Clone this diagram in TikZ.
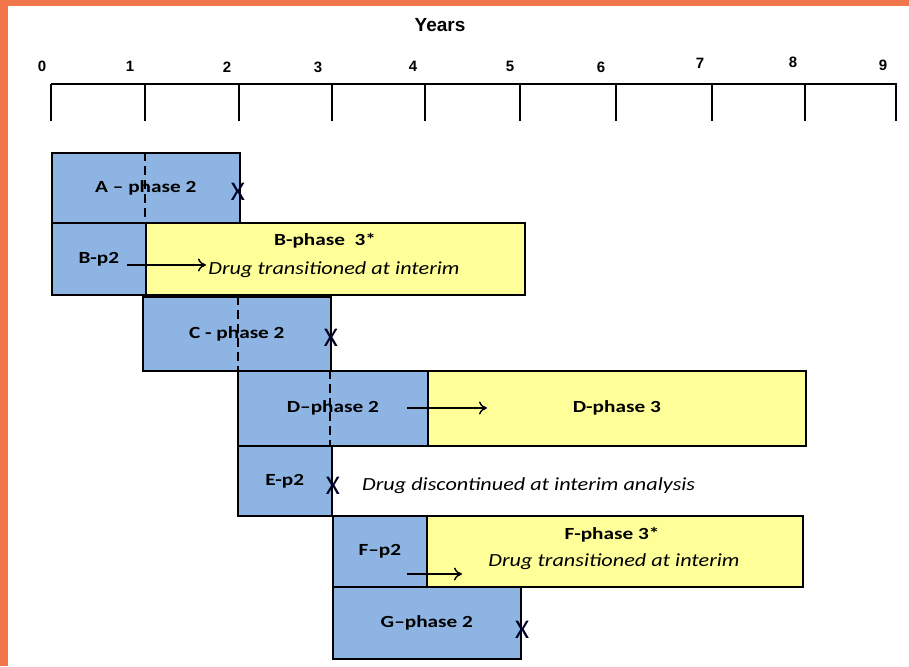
\documentclass[tikz,border=0pt]{standalone}
\usepackage{fontspec}
\setmainfont{Carlito}
\newfontfamily\axisfont{Liberation Sans}
\newfontfamily\widefont[FakeStretch=1.25,Ligatures=TeX]{Carlito}
\newfontfamily\notefont[FakeStretch=1.2,Ligatures=TeX]{Carlito}
\usetikzlibrary{arrows.meta}
\definecolor{frameorange}{RGB}{241,119,74}
\definecolor{ptwoblue}{RGB}{141,180,226}
\definecolor{pthreeyellow}{RGB}{255,255,153}
\tikzset{
  phasebox/.style={draw=black, line width=1.6pt, anchor=north west, inner sep=0pt,
    font=\widefont\bfseries\fontsize{17}{20}\selectfont, align=center},
  ptwo/.style={phasebox, fill=ptwoblue},
  pthree/.style={phasebox, fill=pthreeyellow},
  boxlabel/.style={font=\widefont\bfseries\fontsize{17}{20}\selectfont, inner sep=0pt},
  interim/.style={draw=black, line width=1.3pt, dash pattern=on 9pt off 5pt},
  trans/.style={draw=black, line width=1.4pt, -{To[length=8pt,width=13pt,line width=1.4pt]}},
  stopmark/.style={font=\fontsize{27}{27}\selectfont, text=black!85!blue, inner sep=0pt},
  note/.style={font=\notefont\itshape\fontsize{18.5}{21}\selectfont, inner sep=0pt},
  ticklab/.style={font=\axisfont\bfseries\fontsize{15}{15}\selectfont, inner sep=0pt},
  axisline/.style={draw=black, line width=2.6pt},
  tickline/.style={draw=black, line width=1.5pt},
}
\begin{document}
\begin{tikzpicture}[x=1pt,y=-1pt]
% frame
\fill[white] (0,0) rectangle (909,666);
\fill[frameorange] (0,0) rectangle (909,6);
\fill[frameorange] (0,0) rectangle (8,666);
\useasboundingbox (0,0) rectangle (909,666);

% axis
\node[font=\axisfont\bfseries\fontsize{19}{19}\selectfont, inner sep=0pt] (years) at (440,25) {Years};
\coordinate (axL) at (51,84);
\coordinate (axR) at (897,84);
\foreach \i/\x/\lx/\ly in {0/51/42/66,1/145/130/66,2/239/227/67,3/332/318/67,4/425/413/66,5/520/510/66,6/616/601/67,7/712/700/63,8/805/793/62,9/896/883/65}{
  \coordinate (tt\i) at (\x,84);
  \coordinate (tb\i) at (\x,121);
  \draw[tickline] (tt\i) -- (tb\i);
  \node[ticklab] (t\i) at (\lx,\ly) {\i};
}
\draw[axisline] (axL) -- (axR);

% boxes
\node[ptwo, minimum width=188pt, minimum height=70pt] (A) at (51,152) {A – phase 2};
\node[ptwo, minimum width=94pt, minimum height=72pt] (Bp2) at (51,222) {B-p2};
\node[pthree, minimum width=379pt, minimum height=72pt] (Bp3) at (145,222) {};
\node[ptwo, minimum width=188pt, minimum height=74pt] (C) at (142,296) {C - phase 2};
\node[ptwo, minimum width=190pt, minimum height=75pt] (Dp2) at (237,370) {D–phase 2};
\node[pthree, minimum width=378pt, minimum height=75pt] (Dp3) at (427,370) {D-phase 3};
\node[ptwo, minimum width=94pt, minimum height=70pt] (E) at (237,445) {E-p2};
\node[ptwo, minimum width=94pt, minimum height=71pt] (Fp2) at (332,515) {F–p2};
\node[pthree, minimum width=376pt, minimum height=71pt] (Fp3) at (426,515) {};
\node[ptwo, minimum width=188pt, minimum height=72pt] (G) at (332,586) {G–phase 2};

% texts in phase 3 boxes
\node[boxlabel] (Bt) at (325,241) {B-phase\ \ 3*};
\node[note] (Bn) at (334,270) {Drug transitioned at interim};
\node[boxlabel] (Ft) at (612,535) {F-phase 3*};
\node[note] (Fn) at (614,562) {Drug transitioned at interim};

% interim analysis dashed lines
\coordinate (dA1) at (145,152); \coordinate (dA2) at (145,222);
\coordinate (dC1) at (238,296); \coordinate (dC2) at (238,370);
\coordinate (dD1) at (330,370); \coordinate (dD2) at (330,445);
\draw[interim] (dA1) -- (dA2);
\draw[interim] (dC1) -- (dC2);
\draw[interim] (dD1) -- (dD2);

% transitions
\coordinate (aB1) at (127,265); \coordinate (aB2) at (206,265);
\coordinate (aD1) at (407,408); \coordinate (aD2) at (487,408);
\coordinate (aF1) at (407,574); \coordinate (aF2) at (462,574);
\draw[trans] (aB1) -- (aB2);
\draw[trans] (aD1) -- (aD2);
\draw[trans] (aF1) -- (aF2);

% stop marks
\node[stopmark] (xA) at (238,192) {X};
\node[stopmark] (xC) at (331,338) {X};
\node[stopmark] (xE) at (333,486) {X};
\node[stopmark] (xG) at (522,630) {X};
\node[note, anchor=west] (En) at (362,486) {Drug discontinued at interim analysis};
\end{tikzpicture}
\end{document}
